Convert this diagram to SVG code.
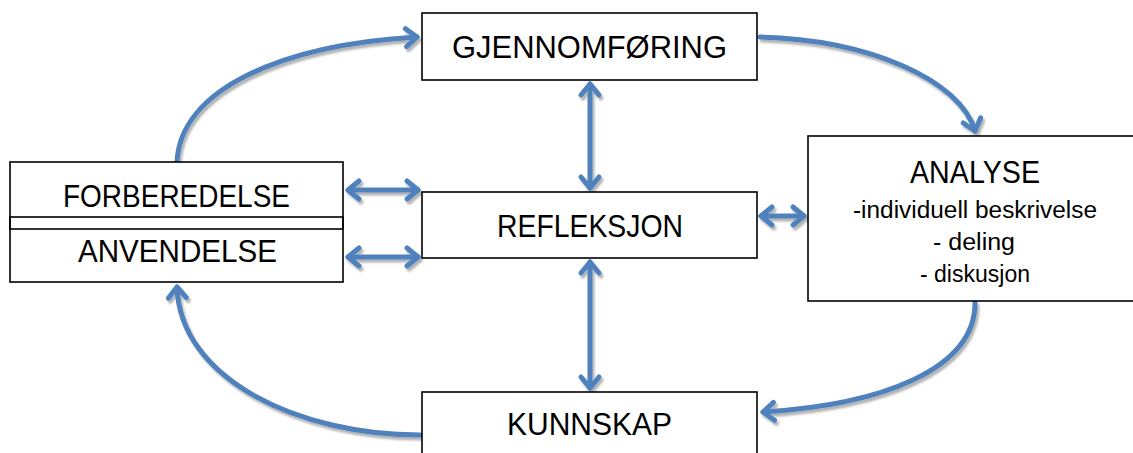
<svg xmlns="http://www.w3.org/2000/svg" width="1133" height="453" viewBox="0 0 1133 453">
<defs>
<style>
.box{fill:#fff;stroke:#000;stroke-width:1.6}
.t{font-family:"Liberation Sans",Arial,sans-serif;font-size:31px;fill:#000;text-anchor:middle}
.s{font-family:"Liberation Sans",Arial,sans-serif;font-size:23px;fill:#000;text-anchor:middle}
.c{fill:none;stroke:#4F81BD;stroke-width:5;stroke-linecap:round;marker-end:url(#ah)}
.d{fill:none;stroke:#4F81BD;stroke-width:5;stroke-linecap:round;marker-end:url(#ah);marker-start:url(#ah)}
</style>
<marker id="ah" markerUnits="userSpaceOnUse" viewBox="-16 -12 20 24" refX="0" refY="0" markerWidth="20" markerHeight="24" orient="auto-start-reverse" overflow="visible">
<polyline points="-11,-9 0,0 -11,9" fill="none" stroke="#4F81BD" stroke-width="5" stroke-linecap="round" stroke-linejoin="round"/>
</marker>
<filter id="sh" x="-20%" y="-20%" width="140%" height="140%">
<feDropShadow dx="2" dy="3" stdDeviation="1.2" flood-color="#000" flood-opacity="0.3"/>
</filter>
</defs>
<g id="connectors" filter="url(#sh)">
<path class="c" d="M177,162 C180,90 280,45 417,37"/>
<path class="c" d="M760,37 C870,40 960,80 975,131"/>
<path class="c" d="M975,303 C975,370 880,405 763,412"/>
<path class="c" d="M420,435 C300,435 180,380 177,287"/>
<path class="d" d="M590,84 L590,188"/>
<path class="d" d="M590,262 L590,388"/>
<path class="d" d="M348,190 L418,190"/>
<path class="d" d="M348,257 L418,257"/>
<path class="d" d="M761,216 L804,216"/>
</g>
<g id="gjennomforing">
<rect class="box" x="422" y="13" width="335" height="67"/>
<text class="t" x="589.5" y="58" textLength="275" lengthAdjust="spacingAndGlyphs">GJENNOMFØRING</text>
</g>
<g id="forberedelse">
<rect class="box" x="10" y="162" width="333" height="67"/>
<text class="t" x="176.5" y="207" textLength="227" lengthAdjust="spacingAndGlyphs">FORBEREDELSE</text>
</g>
<g id="anvendelse">
<rect class="box" x="10" y="217" width="333" height="65" style="fill:none"/>
<text class="t" x="177.5" y="262" textLength="199" lengthAdjust="spacingAndGlyphs">ANVENDELSE</text>
</g>
<g id="refleksjon">
<rect class="box" x="422" y="192" width="335" height="66"/>
<text class="t" x="590" y="237" textLength="186" lengthAdjust="spacingAndGlyphs">REFLEKSJON</text>
</g>
<g id="kunnskap">
<rect class="box" x="422" y="392" width="335" height="70"/>
<text class="t" x="589.5" y="435" textLength="165" lengthAdjust="spacingAndGlyphs">KUNNSKAP</text>
</g>
<g id="analyse">
<rect class="box" x="808" y="136" width="335" height="165"/>
<text class="t" x="975" y="183" textLength="130" lengthAdjust="spacingAndGlyphs">ANALYSE</text>
<text class="s" x="975" y="218" textLength="244" lengthAdjust="spacingAndGlyphs">-individuell beskrivelse</text>
<text class="s" x="974" y="250" textLength="82" lengthAdjust="spacingAndGlyphs">- deling</text>
<text class="s" x="975" y="282" textLength="110" lengthAdjust="spacingAndGlyphs">- diskusjon</text>
</g>
</svg>
